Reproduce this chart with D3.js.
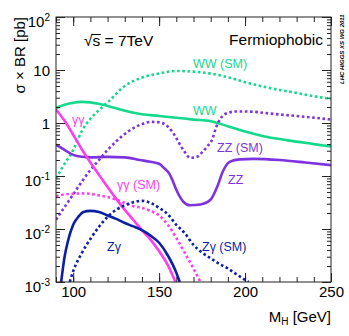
<!DOCTYPE html>
<html>
<head>
<meta charset="utf-8">
<script src="https://cdn.jsdelivr.net/npm/d3@7"></script>
<style>
body { margin: 0; background: #fff; }
text { font-family: "Liberation Sans", Arial, sans-serif; }
</style>
</head>
<body>
<svg id="chart" width="349" height="336"></svg>
<script>
// sigma x BR [pb] vs M_H [GeV]
const wwFP = [[90,1.92],[95,2.2],[100,2.42],[105,2.5],[110,2.45],[120,2.1],[130,1.7],[140,1.46],[150,1.36],[160,1.26],[170,1.16],[180,1.08],[190,0.87],[200,0.69],[210,0.57],[225,0.47],[240,0.4],[250,0.36]];
const wwSM = [[90,0.09],[95,0.17],[100,0.31],[105,0.7],[110,1.2],[115,1.75],[120,2.45],[130,5.0],[140,7.2],[150,8.6],[160,9.6],[170,9.3],[180,8.6],[190,7.3],[200,5.9],[210,4.9],[220,4.2],[230,3.7],[240,3.2],[250,2.85]];
const zzFP = [[90,0.39],[95,0.31],[100,0.25],[105,0.23],[110,0.225],[120,0.23],[130,0.225],[139,0.2],[145,0.185],[150,0.17],[153,0.14],[156,0.11],[158,0.08],[160,0.055],[164,0.033],[168,0.028],[174,0.029],[180,0.036],[184,0.065],[187,0.12],[191,0.185],[197,0.206],[205,0.21],[220,0.2],[235,0.18],[250,0.16]];
const zzSM = [[90,0.015],[95,0.026],[100,0.045],[105,0.078],[110,0.13],[115,0.2],[120,0.31],[125,0.45],[130,0.62],[135,0.8],[140,0.95],[145,1.05],[150,1.03],[155,0.86],[158,0.66],[160,0.52],[163,0.35],[165,0.28],[168,0.22],[172,0.23],[175,0.28],[178,0.36],[181,0.5],[183,0.8],[186,1.25],[190,1.55],[195,1.65],[203,1.64],[215,1.5],[225,1.4],[238,1.28],[250,1.16]];
const ggFP = [[90,1.8],[95,1.1],[100,0.6],[105,0.32],[110,0.18],[115,0.105],[120,0.062],[125,0.037],[130,0.023],[135,0.0148],[140,0.0095],[145,0.0063],[150,0.0038],[155,0.0021],[158,0.0013],[159.5,0.001]];
const ggSM = [[90,0.042],[95,0.045],[100,0.046],[105,0.047],[110,0.046],[115,0.043],[120,0.04],[125,0.036],[130,0.031],[135,0.027],[140,0.025],[145,0.022],[150,0.018],[155,0.012],[160,0.0068],[165,0.0035],[170,0.0018],[174,0.001]];
const zgFP = [[93,0.001],[95,0.003],[97,0.006],[100,0.012],[103,0.017],[106,0.021],[110,0.022],[115,0.021],[120,0.018],[125,0.0155],[130,0.013],[135,0.0112],[140,0.0095],[145,0.0075],[150,0.0055],[155,0.0032],[158,0.0021],[160,0.0015],[162,0.001]];
const zgSM = [[98,0.001],[100,0.0016],[105,0.0035],[110,0.0065],[115,0.011],[120,0.017],[125,0.023],[130,0.028],[135,0.032],[140,0.034],[145,0.031],[150,0.025],[155,0.019],[160,0.012],[165,0.0083],[170,0.005],[175,0.0036],[180,0.0028],[185,0.0022],[190,0.0018],[195,0.0014],[200,0.0011],[202,0.001]];

const xMajor = [100, 150, 200, 250];
const yMajor = [1e-3, 1e-2, 1e-1, 1, 10, 100];

const green = "#14d98c", purple = "#7d33dd", pink = "#ff3df0", navy = "#0b1fa5";

const series = [
    {data: wwSM, color: green, dotted: true},
    {data: wwFP, color: green, dotted: false},
    {data: zzSM, color: purple, dotted: true},
    {data: zzFP, color: purple, dotted: false},
    {data: ggSM, color: pink, dotted: true},
    {data: ggFP, color: pink, dotted: false},
    {data: zgSM, color: navy, dotted: true},
    {data: zgFP, color: navy, dotted: false}
];

const labels = [
    {t: "WW (SM)", x: 193, y: 68, color: green},
    {t: "WW", x: 193, y: 115, color: green},
    {t: "ZZ (SM)", x: 217, y: 152, color: purple},
    {t: "ZZ", x: 228, y: 184, color: purple},
    {t: "γγ", x: 72, y: 124, color: pink},
    {t: "γγ (SM)", x: 117, y: 189, color: pink},
    {t: "Zγ", x: 107, y: 251, color: navy},
    {t: "Zγ (SM)", x: 202, y: 251, color: navy}
];

const svg = d3.select("#chart");
const margin = {t: 17, l: 56, r: 18, b: 54};
const w = 349 - margin.l - margin.r;
const h = 336 - margin.t - margin.b;

const x = d3.scaleLinear().domain([90, 250]).range([margin.l, margin.l + w]);
const y = d3.scaleLog().domain([1e-3, 1e2]).range([margin.t + h, margin.t]);

svg.append("clipPath").attr("id", "clip")
    .append("rect")
    .attr("x", margin.l).attr("y", margin.t)
    .attr("width", w).attr("height", h);

const line = d3.line()
    .x((d) => x(d[0]))
    .y((d) => y(d[1]))
    .curve(d3.curveMonotoneX);

svg.append("g")
    .attr("clip-path", "url(#clip)")
    .selectAll("path")
    .data(series)
    .join("path")
    .attr("d", (d) => line(d.data))
    .attr("fill", "none")
    .attr("stroke", (d) => d.color)
    .attr("stroke-width", 2.6)
    .attr("stroke-dasharray", (d) => (d.dotted ? "2.6,2.6" : null));

// curve labels
svg.append("g")
    .selectAll("text")
    .data(labels)
    .join("text")
    .attr("x", (d) => d.x)
    .attr("y", (d) => d.y)
    .attr("fill", (d) => d.color)
    .style("font-size", "12.5px")
    .text((d) => d.t);

// ticks
const yMinor = [];
yMajor.slice(0, -1).forEach((p) => {
    for (let k = 2; k < 10; k++) yMinor.push(p * k);
});
const xMinor = d3.range(90, 251, 10);

function tickStyle(g) {
    g.select(".domain").remove();
    g.selectAll("line").attr("stroke", "#222");
}

svg.append("g").attr("transform", `translate(0,${margin.t + h})`)
    .call(d3.axisBottom(x).tickValues(xMinor).tickSize(-5).tickSizeOuter(0).tickFormat(""))
    .call(tickStyle);
const xAx = svg.append("g").attr("transform", `translate(0,${margin.t + h})`)
    .call(d3.axisBottom(x).tickValues(xMajor).tickSize(-9).tickSizeOuter(0).tickPadding(4))
    .call(tickStyle);
xAx.selectAll("text").style("font-size", "15px").attr("fill", "#000");

svg.append("g").attr("transform", `translate(0,${margin.t})`)
    .call(d3.axisTop(x).tickValues(xMinor).tickSize(-5).tickSizeOuter(0).tickFormat(""))
    .call(tickStyle);
svg.append("g").attr("transform", `translate(0,${margin.t})`)
    .call(d3.axisTop(x).tickValues(xMajor).tickSize(-9).tickSizeOuter(0).tickFormat(""))
    .call(tickStyle);

svg.append("g").attr("transform", `translate(${margin.l},0)`)
    .call(d3.axisLeft(y).tickValues(yMinor).tickSize(-4).tickSizeOuter(0).tickFormat(""))
    .call(tickStyle);
const yAx = svg.append("g").attr("transform", `translate(${margin.l},0)`)
    .call(d3.axisLeft(y).tickValues(yMajor).tickSize(-9).tickSizeOuter(0).tickPadding(7).tickFormat(""))
    .call(tickStyle);

svg.append("g").attr("transform", `translate(${margin.l + w},0)`)
    .call(d3.axisRight(y).tickValues(yMinor).tickSize(-4).tickSizeOuter(0).tickFormat(""))
    .call(tickStyle);
svg.append("g").attr("transform", `translate(${margin.l + w},0)`)
    .call(d3.axisRight(y).tickValues(yMajor).tickSize(-9).tickSizeOuter(0).tickFormat(""))
    .call(tickStyle);

// y tick labels with exponents
yAx.selectAll(".tick").each(function (d) {
    const e = Math.round(Math.log10(d));
    const t = d3.select(this).append("text")
        .attr("x", -6)
        .attr("text-anchor", "end")
        .attr("fill", "#000")
        .style("font-size", "15px");
    if (e === 0 || e === 1) {
        t.attr("dy", "0.35em").text(e === 0 ? "1" : "10");
    } else {
        t.attr("dy", "0.62em");
        t.append("tspan").text("10");
        t.append("tspan").attr("dy", "-0.55em").style("font-size", "10px").text(e);
    }
});

// frame
svg.append("rect")
    .attr("x", margin.l).attr("y", margin.t)
    .attr("width", w).attr("height", h)
    .attr("fill", "none")
    .attr("stroke", "#222")
    .attr("stroke-width", 1);

// axis titles
const yt = svg.append("text")
    .attr("transform", `translate(25,${margin.t}) rotate(-90)`)
    .attr("text-anchor", "end")
    .style("font-size", "15px");
yt.append("tspan").text("σ × BR [pb]");

const xt = svg.append("text")
    .attr("x", margin.l + w)
    .attr("y", 322)
    .attr("text-anchor", "end")
    .style("font-size", "15px");
xt.append("tspan").text("M");
xt.append("tspan").attr("dy", 3).style("font-size", "10px").text("H");
xt.append("tspan").attr("dy", -3).text(" [GeV]");

// header texts
const rs = svg.append("text")
    .attr("x", 84).attr("y", 46)
    .style("font-size", "15.5px");
rs.append("tspan").text("√");
rs.append("tspan").attr("class", "s").text("s");
rs.append("tspan").text(" = 7TeV");
const sNode = rs.node();
const sx = sNode.getStartPositionOfChar(1).x;
const sw = sNode.getSubStringLength(1, 1);
svg.append("line")
    .attr("x1", sx - 1).attr("x2", sx + sw + 0.5)
    .attr("y1", 34.5).attr("y2", 34.5)
    .attr("stroke", "#000").attr("stroke-width", 1);

svg.append("text")
    .attr("x", 323).attr("y", 45)
    .attr("text-anchor", "end")
    .style("font-size", "15.5px")
    .text("Fermiophobic");

svg.append("text")
    .attr("transform", "translate(344,84) rotate(-90)")
    .style("font-size", "6px")
    .style("font-weight", "bold")
    .style("font-style", "italic")
    .text("LHC HIGGS XS WG 2011");
</script>
</body>
</html>
